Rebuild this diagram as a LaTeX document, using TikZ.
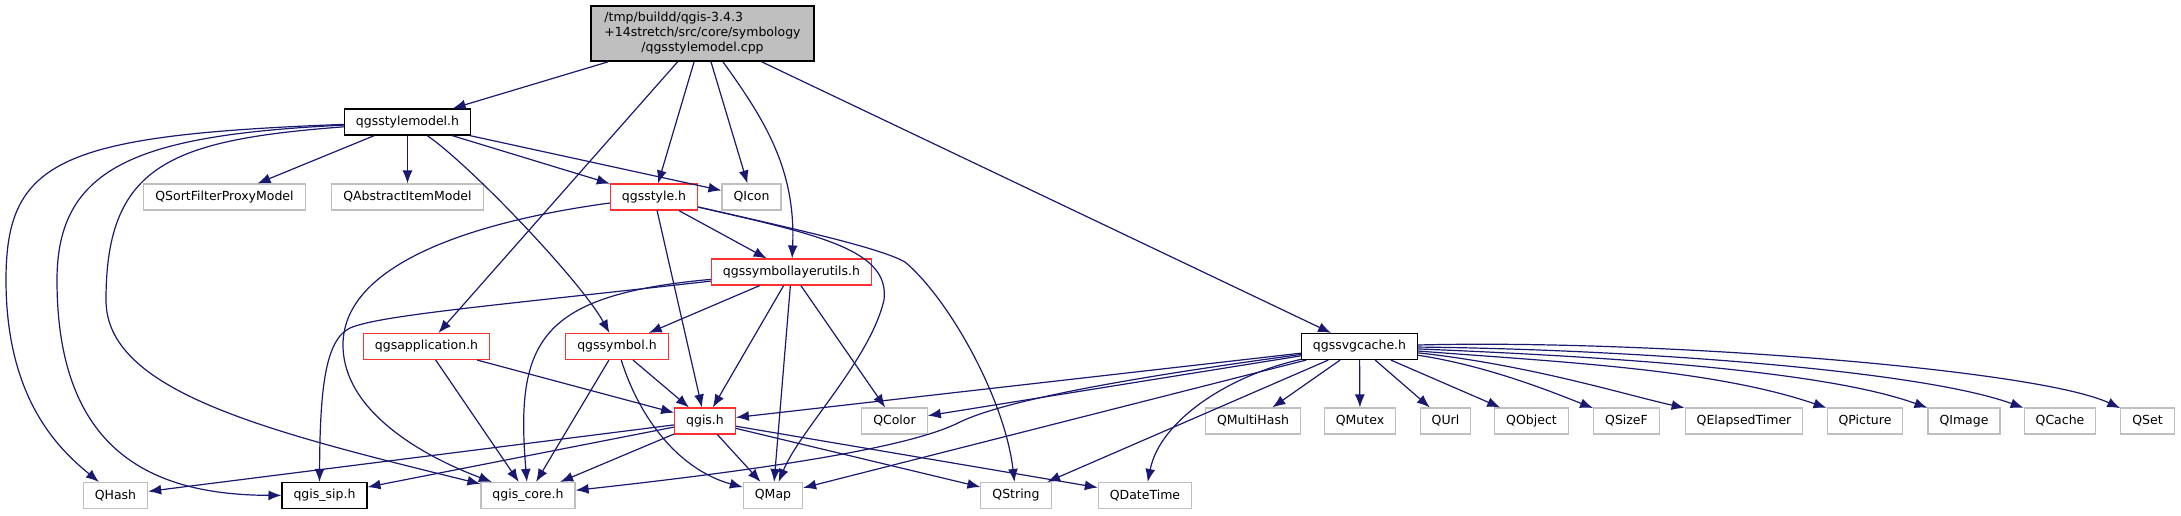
\documentclass[tikz,border=0pt]{standalone}
\usepackage{fontspec}
\setmainfont{DejaVu Sans}
\usetikzlibrary{arrows.meta}
\definecolor{edgeblue}{HTML}{191970}
\definecolor{boxgray}{HTML}{BFBFBF}
\definecolor{boxred}{HTML}{FF3030}
\tikzset{block/.style = {draw, rectangle, fill = white, minimum height = 26pt, inner xsep = 11.5pt, inner ysep = 2pt, line width = 1.1pt, font = \fontsize{12.5}{15}\selectfont},
         header/.style = {block, draw = black},
         trunc/.style = {block, draw = boxred},
         qtclass/.style = {block, draw = boxgray},
         source/.style = {block, draw = black, fill = boxgray, line width = 1.8pt, minimum width = 223pt, minimum height = 55pt},
         dep/.style = {draw = edgeblue, line width = 1.2pt, -{Latex[length = 13pt, width = 10pt]}},
}

\begin{document}
\begin{tikzpicture}[x = 1pt, y = -1pt]
  \useasboundingbox (0,0) rectangle (2181,515);

  \node[source] (ROOT) at (702.5,33.5) {\begin{tabular}{@{}l@{}}/tmp/buildd/qgis-3.4.3\\+14stretch/src/core/symbology\\\multicolumn{1}{@{}c@{}}{/qgsstylemodel.cpp}\end{tabular}};

  \node[header] (STYLEMODEL) at (407.5,122) {qgsstylemodel.h};
  \node[qtclass] (SORTPROXY) at (224.5,197) {QSortFilterProxyModel};
  \node[qtclass] (ABSMODEL) at (407.5,197) {QAbstractItemModel};
  \node[trunc] (STYLE) at (654,197) {qgsstyle.h};
  \node[qtclass] (ICON) at (751.5,197) {QIcon};
  \node[trunc] (SYMUTILS) at (791.5,272) {qgssymbollayerutils.h};
  \node[trunc] (APP) at (426.5,346.5) {qgsapplication.h};
  \node[trunc] (SYMBOL) at (617,346.5) {qgssymbol.h};
  \node[header] (SVGCACHE) at (1359.5,346.5) {qgssvgcache.h};

  \node[trunc] (QGIS) at (705,421) {qgis.h};
  \node[qtclass] (COLOR) at (894.5,421) {QColor};
  \node[qtclass] (MULTIHASH) at (1253,421) {QMultiHash};
  \node[qtclass] (MUTEX) at (1360,421) {QMutex};
  \node[qtclass] (URL) at (1445.5,421) {QUrl};
  \node[qtclass] (OBJECT) at (1531.5,421) {QObject};
  \node[qtclass] (SIZEF) at (1626.5,421) {QSizeF};
  \node[qtclass] (ETIMER) at (1744,421) {QElapsedTimer};
  \node[qtclass] (PICTURE) at (1865,421) {QPicture};
  \node[qtclass] (IMAGE) at (1964,421) {QImage};
  \node[qtclass] (CACHE) at (2060,421) {QCache};
  \node[qtclass] (SET) at (2147.5,421) {QSet};

  \node[qtclass] (HASH) at (115.5,495.5) {QHash};
  \node[header] (SIP) at (324.5,495.5) {qgis\_sip.h};
  \node[qtclass] (CORE) at (528,495.5) {qgis\_core.h};
  \node[qtclass] (MAP) at (773,495.5) {QMap};
  \node[qtclass] (STRING) at (1016,495.5) {QString};
  \node[qtclass] (DATETIME) at (1145,495.5) {QDateTime};

  % includes of the source file
  \draw[dep] (ROOT) -- (STYLEMODEL);
  \draw[dep] (ROOT) -- (APP);
  \draw[dep] (ROOT) -- (STYLE);
  \draw[dep] (ROOT) -- (ICON);
  \draw[dep] (ROOT) .. controls (765,120) and (796,170) .. (SYMUTILS);
  \draw[dep] (ROOT) -- (SVGCACHE);

  \draw[dep] (STYLEMODEL) -- (SORTPROXY);
  \draw[dep] (STYLEMODEL) -- (ABSMODEL);
  \draw[dep] (STYLEMODEL) -- (STYLE);
  \draw[dep] (STYLEMODEL) -- (ICON);
  \draw[dep] (STYLEMODEL) .. controls (470,165) and (580,280) .. (SYMBOL);
  \draw[dep] (STYLEMODEL) .. controls (60,135) and (6,160) .. (6,280) .. controls (6,400) and (60,450) .. (HASH);
  \draw[dep] (STYLEMODEL) .. controls (140,135) and (57,165) .. (57,280) .. controls (57,450) and (150,495) .. (SIP);
  \draw[dep] (STYLEMODEL) .. controls (170,140) and (106,165) .. (106,300) .. controls (106,390) and (260,430) .. (CORE);

  \draw[dep] (STYLE) -- (SYMUTILS);
  \draw[dep] (STYLE) -- (QGIS);
  \draw[dep] (STYLE) .. controls (470,222) and (343,265) .. (343,345) .. controls (343,410) and (420,455) .. (CORE);
  \draw[dep] (STYLE) .. controls (820,235) and (890,250) .. (884,300) .. controls (870,360) and (800,430) .. (MAP);
  \draw[dep] (STYLE) .. controls (800,230) and (880,248) .. (905,262) .. controls (950,300) and (1005,400) .. (STRING);

  \draw[dep] (SYMUTILS) -- (SYMBOL);
  \draw[dep] (SYMUTILS) -- (QGIS);
  \draw[dep] (SYMUTILS) -- (MAP);
  \draw[dep] (SYMUTILS) -- (COLOR);
  \draw[dep] (SYMUTILS) .. controls (540,295) and (515,340) .. (CORE);
  \draw[dep] (SYMUTILS) .. controls (500,305) and (380,315) .. (350,328) .. controls (325,340) and (320,390) .. ([xshift=-5pt]SIP.north);

  \draw[dep] (APP) -- (QGIS);
  \draw[dep] (APP) -- (CORE);
  \draw[dep] (SYMBOL) -- (QGIS);
  \draw[dep] (SYMBOL) -- (CORE);
  \draw[dep] (SYMBOL) .. controls (640,420) and (680,470) .. (MAP);

  \draw[dep] (QGIS) -- (HASH);
  \draw[dep] (QGIS) -- (SIP);
  \draw[dep] (QGIS) -- (CORE);
  \draw[dep] (QGIS) -- (MAP);
  \draw[dep] (QGIS) -- (STRING);
  \draw[dep] (QGIS) -- (DATETIME);

  % svg cache fan
  \draw[dep] (SVGCACHE) -- (QGIS);
  \draw[dep] (SVGCACHE) -- (COLOR);
  \draw[dep] (SVGCACHE) .. controls (1150,375) and (1010,398) .. (960,422) .. controls (910,448) and (760,470) .. (CORE);
  \draw[dep] (SVGCACHE) -- (MAP);
  \draw[dep] (SVGCACHE) -- (STRING);
  \draw[dep] (SVGCACHE) .. controls (1230,375) and (1160,420) .. (DATETIME);
  \draw[dep] (SVGCACHE) -- (MULTIHASH);
  \draw[dep] (SVGCACHE) -- (MUTEX);
  \draw[dep] (SVGCACHE) -- (URL);
  \draw[dep] (SVGCACHE) -- (OBJECT);
  \draw[dep] (SVGCACHE) .. controls (1490,366) and (1559.5,395) .. (SIZEF);
  \draw[dep] (SVGCACHE) .. controls (1530,365) and (1626,395) .. (ETIMER);
  \draw[dep] (SVGCACHE) .. controls (1560,362) and (1713,369) .. (PICTURE);
  \draw[dep] (SVGCACHE) .. controls (1590,356) and (1820,369) .. (IMAGE);
  \draw[dep] (SVGCACHE) .. controls (1620,349) and (1916,369) .. (CACHE);
  \draw[dep] (SVGCACHE) .. controls (1650,339) and (2037,369) .. (SET);
\end{tikzpicture}
\end{document}
